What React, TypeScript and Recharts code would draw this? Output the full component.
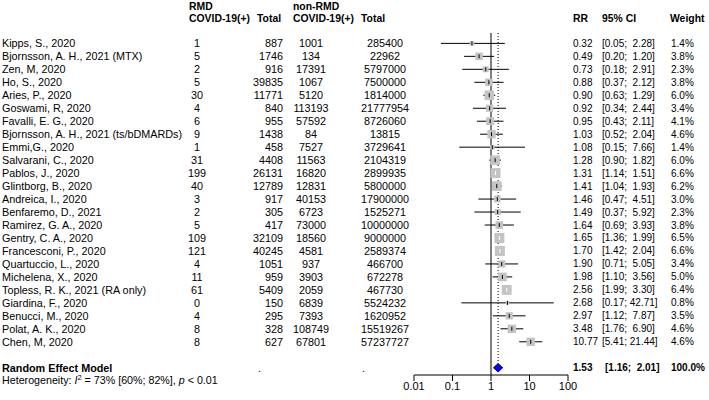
import React from "react";
import { ScatterChart, Scatter, XAxis, YAxis, ErrorBar, ReferenceLine } from "recharts";

const studies = [
  "Kipps, S., 2020",
  "Bjornsson, A. H., 2021 (MTX)",
  "Zen, M, 2020",
  "Ho, S., 2020",
  "Aries, P., 2020",
  "Goswami, R, 2020",
  "Favalli, E. G., 2020",
  "Bjornsson, A. H., 2021 (ts/bDMARDs)",
  "Emmi,G., 2020",
  "Salvarani, C., 2020",
  "Pablos, J., 2020",
  "Glintborg, B., 2020",
  "Andreica, I., 2020",
  "Benfaremo, D., 2021",
  "Ramirez, G. A., 2020",
  "Gentry, C. A., 2020",
  "Francesconi, P., 2020",
  "Quartuccio, L., 2020",
  "Michelena, X., 2020",
  "Topless, R. K., 2021 (RA only)",
  "Giardina, F., 2020",
  "Benucci, M., 2020",
  "Polat, A. K., 2020",
  "Chen, M, 2020",
];
const rmdCases = [1, 5, 2, 5, 30, 4, 6, 9, 1, 31, 199, 40, 3, 2, 5, 109, 121, 4, 11, 61, 0, 4, 8, 8];
const rmdTotal = [887, 1746, 916, 39835, 11771, 840, 955, 1438, 458, 4408, 26131, 12789, 917, 305, 417, 32109, 40245, 1051, 959, 5409, 150, 295, 328, 627];
const nonRmdCases = [1001, 134, 17391, 1067, 5120, 113193, 57592, 84, 7527, 11563, 16820, 12831, 40153, 6723, 73000, 18560, 4581, 937, 3903, 2059, 6839, 7393, 108749, 67801];
const nonRmdTotal = [285400, 22962, 5797000, 7500000, 1814000, 21777954, 8726060, 13815, 3729641, 2104319, 2899935, 5800000, 17900000, 1525271, 10000000, 9000000, 2589374, 466700, 672278, 467730, 5524232, 1620952, 15519267, 57237727];
const rr = [0.32, 0.49, 0.73, 0.88, 0.9, 0.92, 0.95, 1.03, 1.08, 1.28, 1.31, 1.41, 1.46, 1.49, 1.64, 1.65, 1.7, 1.9, 1.98, 2.56, 2.68, 2.97, 3.48, 10.77];
const ciLow = [0.05, 0.2, 0.18, 0.37, 0.63, 0.34, 0.43, 0.52, 0.15, 0.9, 1.14, 1.04, 0.47, 0.37, 0.69, 1.36, 1.42, 0.71, 1.1, 1.99, 0.17, 1.12, 1.76, 5.41];
const ciHigh = [2.28, 1.2, 2.91, 2.12, 1.29, 2.44, 2.11, 2.04, 7.66, 1.82, 1.51, 1.93, 4.51, 5.92, 3.93, 1.99, 2.04, 5.05, 3.56, 3.3, 42.71, 7.87, 6.9, 21.44];
const weight = [1.4, 3.8, 2.3, 3.8, 6.0, 3.4, 4.1, 4.6, 1.4, 6.0, 6.6, 6.2, 3.0, 2.3, 3.8, 6.5, 6.6, 3.4, 5.0, 6.4, 0.8, 3.5, 4.6, 4.6];

const pooledRR = 1.53;
const pooledLow = 1.16;
const pooledHigh = 2.01;
const axisTicks = [0.01, 0.1, 1, 10, 100];

const POOLED_ROW = 25;
const FONT = "'Liberation Sans', Arial, Helvetica, sans-serif";
const PX_PER_DECADE = 38.5;
const boxSide = (w: number) => 3.9 * Math.sqrt(w);

const rows = studies.map((name, i) => ({
  name,
  row: i,
  rr: rr[i],
  w: weight[i],
  err: [rr[i] - ciLow[i], ciHigh[i] - rr[i]],
  // CI fully inside the box -> drawn white, like R meta
  inside: Math.log10(ciHigh[i] / ciLow[i]) * PX_PER_DECADE < boxSide(weight[i]),
}));
const outsideRows = rows.filter((r) => !r.inside);
const insideRows = rows.filter((r) => r.inside);

const diamond = [
  { rr: pooledLow, row: POOLED_ROW },
  { rr: pooledRR, row: POOLED_ROW - 0.32 },
  { rr: pooledHigh, row: POOLED_ROW },
  { rr: pooledRR, row: POOLED_ROW + 0.32 },
  { rr: pooledLow, row: POOLED_ROW },
];

const rowTicks = [...studies.map((_, i) => i), POOLED_ROW];
const fmt2 = (v: number) => v.toFixed(2);
// R pads the upper limit so the brackets line up
const ciText = (lo: number, hi: number) => `[${fmt2(lo)}; ${fmt2(hi).padStart(5, " ")}]`;

const Box = (p: any) => {
  const s = boxSide(p.payload.w);
  return <rect x={p.cx - s / 2} y={p.cy - s / 2} width={s} height={s} fill="#c4c4c4" />;
};
const BlackMark = (p: any) => <line x1={p.cx} x2={p.cx} y1={p.cy - 2} y2={p.cy + 2} stroke="#000" />;
const WhiteMark = (p: any) => <line x1={p.cx} x2={p.cx} y1={p.cy - 2} y2={p.cy + 2} stroke="#fff" />;
const Nothing = () => <g />;

const RowLabel = ({ y, payload }: any) => {
  const i = payload.value;
  if (i === POOLED_ROW) {
    return (
      <g fontFamily={FONT} fill="#000" fontWeight="bold">
        <text x={2} y={y} dy="0.35em" fontSize={10.8}>Random Effect Model</text>
        <text x={258} y={y} dy="0.35em" fontSize={10.8} fontWeight="normal">.</text>
        <text x={362} y={y} dy="0.35em" fontSize={10.8} fontWeight="normal">.</text>
        <text x={573} y={y} dy="0.35em" fontSize={10}>{fmt2(pooledRR)}</text>
        <text x={605} y={y} dy="0.35em" fontSize={10} style={{ whiteSpace: "pre" }}>
          {ciText(pooledLow, pooledHigh)}
        </text>
        <text x={671} y={y} dy="0.35em" fontSize={10}>100.0%</text>
      </g>
    );
  }
  return (
    <g fontFamily={FONT} fill="#000">
      <g fontSize={10.8}>
        <text x={2} y={y} dy="0.35em">{studies[i]}</text>
        <text x={197} y={y} dy="0.35em" textAnchor="middle">{rmdCases[i]}</text>
        <text x={283} y={y} dy="0.35em" textAnchor="end">{rmdTotal[i]}</text>
        <text x={311} y={y} dy="0.35em" textAnchor="middle">{nonRmdCases[i]}</text>
        <text x={385} y={y} dy="0.35em" textAnchor="middle">{nonRmdTotal[i]}</text>
      </g>
      <g fontSize={10}>
        <text x={573} y={y} dy="0.35em">{fmt2(rr[i])}</text>
        <text x={602} y={y} dy="0.35em" style={{ whiteSpace: "pre" }}>{ciText(ciLow[i], ciHigh[i])}</text>
        <text x={671} y={y} dy="0.35em">{weight[i].toFixed(1)}%</text>
      </g>
    </g>
  );
};

const Headers = () => (
  <svg width={709} height={400} style={{ position: "absolute", left: 0, top: 0, pointerEvents: "none" }}>
    <g fontFamily={FONT} fontSize={10.4} fontWeight="bold" fill="#000">
      <text x={189} y={6} dy="0.35em">RMD</text>
      <text x={189} y={18.5} dy="0.35em">COVID-19(+)</text>
      <text x={257} y={18.5} dy="0.35em">Total</text>
      <text x={293} y={6} dy="0.35em">non-RMD</text>
      <text x={293} y={18.5} dy="0.35em">COVID-19(+)</text>
      <text x={361} y={18.5} dy="0.35em">Total</text>
      <text x={573} y={18.5} dy="0.35em">RR</text>
      <text x={602} y={18.5} dy="0.35em">95% CI</text>
      <text x={670} y={18.5} dy="0.35em">Weight</text>
    </g>
    <text x={2} y={380} dy="0.35em" fontFamily={FONT} fontSize={10.7} fill="#000">
      Heterogeneity: <tspan fontStyle="italic">I</tspan>
      <tspan dy={-4} fontSize={7.5}>2</tspan>
      <tspan dy={4}> = 73% [60%; 82%], </tspan>
      <tspan fontStyle="italic">p</tspan> &lt; 0.01
    </text>
  </svg>
);

export default function App() {
  return (
    <div style={{ position: "absolute", left: 0, top: 0, width: 709, height: 400, background: "#fff" }}>
      <ScatterChart width={709} height={400} margin={{ top: 33, right: 141, bottom: 0, left: 0 }}>
        <XAxis
          type="number"
          dataKey="rr"
          scale="log"
          domain={[0.01, 100]}
          allowDataOverflow
          ticks={axisTicks}
          interval={0}
          tickFormatter={(v: number) => String(v)}
          height={25}
          tickSize={6}
          tickMargin={1}
          stroke="#000"
          tick={{ fill: "#000", fontSize: 11, fontFamily: FONT }}
        />
        <YAxis
          type="number"
          dataKey="row"
          domain={[-0.8, 25.56]}
          reversed
          allowDataOverflow
          ticks={rowTicks}
          interval={0}
          width={414}
          axisLine={false}
          tickLine={false}
          tick={(p: any) => <RowLabel {...p} />}
        />
        <ReferenceLine x={1} stroke="#000" />
        <ReferenceLine
          segment={[
            { x: pooledRR, y: -0.8 },
            { x: pooledRR, y: POOLED_ROW - 0.32 },
          ]}
          stroke="#000"
          strokeDasharray="1 2"
        />
        <Scatter data={rows} shape={Box} isAnimationActive={false} />
        <Scatter data={outsideRows} shape={BlackMark} isAnimationActive={false}>
          <ErrorBar dataKey="err" direction="x" width={0} stroke="#000" strokeWidth={1} />
        </Scatter>
        <Scatter data={insideRows} shape={WhiteMark} isAnimationActive={false}>
          <ErrorBar dataKey="err" direction="x" width={0} stroke="#fff" strokeWidth={1} />
        </Scatter>
        <Scatter
          data={diamond}
          shape={Nothing}
          line={{ fill: "#0000ff", stroke: "#00008b", strokeWidth: 1 }}
          lineType="joint"
          isAnimationActive={false}
        />
      </ScatterChart>
      <Headers />
    </div>
  );
}
